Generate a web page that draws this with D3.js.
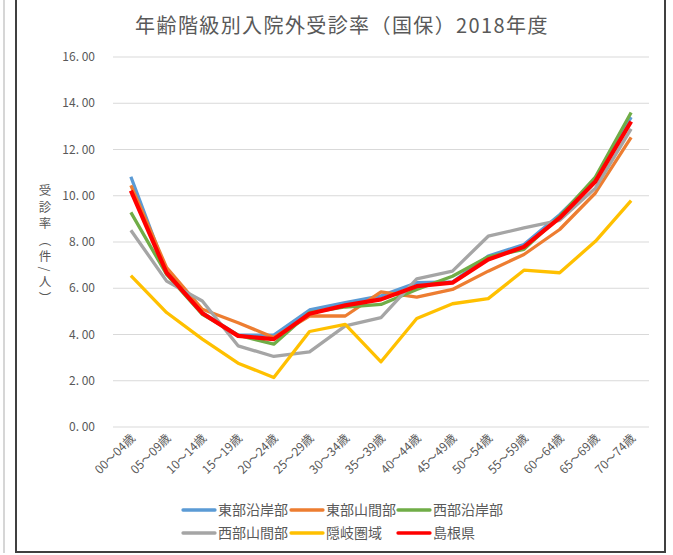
<!DOCTYPE html>
<html>
<head>
<meta charset="utf-8">
<script src="https://cdn.jsdelivr.net/npm/d3@7"></script>
<style>
  body { margin: 0; background: #fff; }
  svg { font-family: "Noto Sans CJK JP", "Noto Sans", sans-serif; }
</style>
</head>
<body>
<div id="chart"></div>
<script>
const ageGroups = ['00～04歳', '05～09歳', '10～14歳', '15～19歳', '20～24歳', '25～29歳', '30～34歳',
    '35～39歳', '40～44歳', '45～49歳', '50～54歳', '55～59歳', '60～64歳', '65～69歳', '70～74歳'];

const eastCoast = [10.82, 6.70, 4.95, 3.97, 3.97, 5.06, 5.38, 5.67, 6.24, 6.27, 7.39, 7.89, 9.18, 10.69, 13.40];
const eastMountain = [10.45, 6.89, 5.09, 4.51, 3.87, 4.80, 4.80, 5.84, 5.62, 5.95, 6.74, 7.46, 8.54, 10.12, 12.52];
const westCoast = [9.28, 6.60, 4.87, 3.97, 3.58, 4.95, 5.19, 5.30, 5.95, 6.52, 7.36, 7.68, 9.11, 10.81, 13.60];
const westMountain = [8.51, 6.31, 5.45, 3.51, 3.05, 3.25, 4.37, 4.73, 6.41, 6.74, 8.25, 8.61, 8.94, 10.33, 12.89];
const oki = [6.55, 4.95, 3.80, 2.76, 2.14, 4.13, 4.44, 2.82, 4.69, 5.33, 5.55, 6.78, 6.67, 8.03, 9.79];
const shimane = [10.22, 6.67, 4.92, 3.94, 3.80, 4.90, 5.26, 5.52, 6.09, 6.24, 7.24, 7.79, 9.04, 10.62, 13.21];

const yTicks = [0, 2, 4, 6, 8, 10, 12, 14, 16];

const series = [
    { name: '東部沿岸部', values: eastCoast, color: '#5b9bd5' },
    { name: '東部山間部', values: eastMountain, color: '#ed7d31' },
    { name: '西部沿岸部', values: westCoast, color: '#70ad47' },
    { name: '西部山間部', values: westMountain, color: '#a5a5a5' },
    { name: '隠岐圏域', values: oki, color: '#ffc000' },
    { name: '島根県', values: shimane, color: '#ff0000' },
];

const width = 673;
const height = 555;
const margin = { top: 57, right: 24, bottom: 127, left: 113 };

const svg = d3.select('#chart')
    .append('svg')
    .attr('width', width)
    .attr('height', height);

// frame lines
svg.append('line')
    .attr('x1', 4).attr('x2', 4).attr('y1', 0).attr('y2', 553)
    .attr('stroke', '#c8c8c8').attr('stroke-width', 1.5);
svg.append('rect')
    .attr('x', 16).attr('y', -5)
    .attr('width', 649).attr('height', 557)
    .attr('fill', 'none')
    .attr('stroke', '#404040')
    .attr('stroke-width', 2);

// title
svg.append('text')
    .attr('x', 342)
    .attr('y', 33)
    .attr('text-anchor', 'middle')
    .style('font-size', '20px')
    .style('letter-spacing', '1.4px')
    .style('fill', '#595959')
    .text('年齢階級別入院外受診率（国保）2018年度');

const x = d3.scaleBand()
    .domain(ageGroups)
    .range([margin.left, width - margin.right]);

const y = d3.scaleLinear()
    .domain([0, 16])
    .range([height - margin.bottom - 1, margin.top]);

// grid lines
svg.append('g')
    .selectAll('line')
    .data(yTicks)
    .enter()
    .append('line')
    .attr('x1', margin.left)
    .attr('x2', width - margin.right)
    .attr('y1', (d) => y(d))
    .attr('y2', (d) => y(d))
    .attr('stroke', '#d9d9d9')
    .attr('stroke-width', 1);

// y axis labels
svg.append('g')
    .selectAll('text')
    .data(yTicks)
    .enter()
    .append('text')
    .attr('x', 95)
    .attr('y', (d) => y(d) + 4)
    .attr('text-anchor', 'end')
    .style('font-size', '12px')
    .style('fill', '#595959')
    .text((d) => d3.format('.2f')(d).replace('.', '. '));

// y axis title (vertical)
svg.append('text')
    .attr('x', 45)
    .attr('y', 184)
    .style('writing-mode', 'vertical-rl')
    .style('font-size', '12.5px')
    .style('letter-spacing', '4px')
    .style('fill', '#595959')
    .text('受診率（件/人）');

// x axis labels
svg.append('g')
    .selectAll('text')
    .data(ageGroups)
    .enter()
    .append('text')
    .attr('text-anchor', 'end')
    .attr('transform', (d) => `translate(${x(d) + x.bandwidth() / 2 + 5},${y(0) + 12}) rotate(-45)`)
    .style('font-size', '12px')
    .style('fill', '#595959')
    .text((d) => d);

// lines
const line = d3.line()
    .x((d, i) => x(ageGroups[i]) + x.bandwidth() / 2)
    .y((d) => y(d));

svg.append('g')
    .selectAll('path')
    .data(series)
    .enter()
    .append('path')
    .attr('d', (d) => line(d.values))
    .attr('fill', 'none')
    .attr('stroke', (d) => d.color)
    .attr('stroke-width', (d) => (d.name === '島根県' ? 4.2 : 3.3))
    .attr('stroke-linejoin', 'round');

// legend
const legendPos = [[183, 510], [291, 510], [398, 510], [183, 533], [291, 533], [398, 533]];
const legend = svg.append('g')
    .selectAll('g')
    .data(series)
    .enter()
    .append('g')
    .attr('transform', (d, i) => `translate(${legendPos[i][0]},${legendPos[i][1]})`);

legend.append('line')
    .attr('x1', 0).attr('x2', 32)
    .attr('y1', 0).attr('y2', 0)
    .attr('stroke', (d) => d.color)
    .attr('stroke-width', 3.3)
    .attr('stroke-linecap', 'round');

legend.append('text')
    .attr('x', 35)
    .attr('y', 5)
    .style('font-size', '14px')
    .style('fill', '#595959')
    .text((d) => d.name);
</script>
</body>
</html>
